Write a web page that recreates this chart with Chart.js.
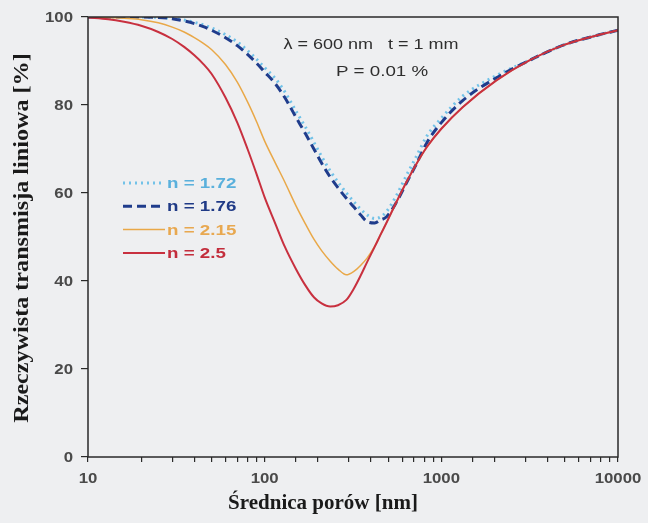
<!DOCTYPE html>
<html>
<head>
<meta charset="utf-8">
<script src="https://cdn.jsdelivr.net/npm/chart.js@4/dist/chart.umd.min.js"></script>
<style>
  body { margin: 0; background: #eeeff1; }
  #wrap { width: 648px; height: 523px; }
</style>
</head>
<body>
<div id="wrap"><canvas id="chart" width="648" height="523"></canvas></div>
<script>
// średnica porów [nm]
const poreSize = [10, 13, 16, 20, 25, 30, 35, 40, 45, 50, 60, 70, 80, 90, 100, 115, 130, 150, 170, 190, 210,
                  235, 260, 290, 320, 350, 380, 420, 450, 490, 550, 635, 720, 830, 1000, 1320, 2050, 3170, 4900, 7560, 10000];

// rzeczywista transmisja liniowa [%] dla kolejnych współczynników załamania
const rit172 = [100, 100, 100, 100, 99.9, 99.7, 99.3, 98.8, 98.2, 97.5, 96, 94.3, 92.4, 90.4, 88.5, 86, 83, 78.7, 75, 71.5, 68.3,
                65, 62.5, 60, 58, 56.3, 55, 54.2, 54.5, 55.8, 59, 64, 68.2, 73, 77, 82, 86.7, 90.2, 93.6, 95.8, 97];
const rit176 = [100, 100, 100, 100, 99.9, 99.6, 99.1, 98.5, 97.8, 97, 95.3, 93.5, 91.5, 89.5, 87.5, 84.8, 81.7, 77.3, 73.5, 70, 66.8,
                63.6, 61.2, 58.8, 56.8, 55, 53.5, 53.2, 53.8, 54.6, 57.5, 62.3, 66.5, 71.5, 76, 81, 86.2, 90.2, 93.6, 95.8, 97];
const rit215 = [100, 99.9, 99.7, 99.4, 98.7, 97.7, 96.6, 95.3, 94, 92.6, 89.2, 85.2, 80.7, 76.2, 71.8, 66.8, 62.5, 57.2, 53, 49.5, 46.9,
                44.5, 42.7, 41.4, 42.2, 43.6, 45.2, 47.9, 50.3, 53.3, 57.5, 62.5, 66.5, 70.5, 74.6, 79.5, 85.6, 90.2, 93.6, 95.8, 97];
const rit250 = [99.9, 99.5, 98.9, 98, 96.6, 95, 93.2, 91.3, 89.3, 87.1, 81.7, 76, 70, 64.3, 59, 53, 47.8, 42.8, 39, 36.3, 34.9,
                34.2, 34.5, 35.7, 38.3, 41.3, 44.3, 47.8, 50.3, 53.3, 57.5, 62.5, 66.5, 70.5, 74.6, 79.5, 85.6, 90.2, 93.6, 95.8, 97];

const seriesLabels = ['n = 1.72', 'n = 1.76', 'n = 2.15', 'n = 2.5'];
const xTickLabels = [10, 100, 1000, 10000];
const yTickLabels = [0, 20, 40, 60, 80, 100];

function toPoints(values) {
    return poreSize.map((x, i) => ({ x: x, y: values[i] }));
}

// tekst rozciągnięty w poziomie (czcionki w oryginale są szersze)
function wideText(c, text, x, y, sx) {
    c.save();
    c.translate(x, y);
    c.scale(sx, 1);
    c.fillText(text, 0, 0);
    c.restore();
}

// ramka, opisy osi, legenda i warunki obliczeń rysowane ręcznie
const extras = {
    id: 'extras',
    beforeDraw(chart) {
        const c = chart.ctx;
        c.save();
        c.fillStyle = '#eeeff1';
        c.fillRect(0, 0, chart.width, chart.height);
        c.restore();
    },
    afterDatasetsDraw(chart) {
        const c = chart.ctx;
        const a = chart.chartArea;
        const sx = chart.scales.x;
        const sy = chart.scales.y;
        c.save();
        c.strokeStyle = '#2a2a2a';
        c.lineWidth = 1.5;
        c.strokeRect(a.left, a.top, a.right - a.left, a.bottom - a.top);

        // etykiety osi
        c.fillStyle = '#4a4a4a';
        c.font = 'bold 14px "Liberation Sans", Arial, sans-serif';
        c.textBaseline = 'middle';
        c.textAlign = 'center';
        xTickLabels.forEach(v => wideText(c, String(v), sx.getPixelForValue(v), 479, 1.2));
        c.textAlign = 'right';
        yTickLabels.forEach(v => wideText(c, String(v), 73, sy.getPixelForValue(v) + 1, 1.2));

        // legenda
        chart.data.datasets.forEach((ds, i) => {
            const y = 183 + i * 23.3;
            c.strokeStyle = ds.borderColor;
            c.lineWidth = ds.borderWidth;
            c.setLineDash(ds.borderDash || []);
            c.beginPath();
            c.moveTo(123, y);
            c.lineTo(165, y);
            c.stroke();
            c.setLineDash([]);
            c.fillStyle = ds.textColor;
            c.font = 'bold 15px "Liberation Sans", Arial, sans-serif';
            c.textAlign = 'left';
            wideText(c, ds.label, 167, y + 1, 1.25);
        });

        // warunki obliczeń
        c.fillStyle = '#2e2e2e';
        c.font = '15px "Liberation Sans", Arial, sans-serif';
        c.textAlign = 'center';
        wideText(c, '\u03bb = 600 nm   t = 1 mm', 371, 45, 1.2);
        wideText(c, 'P = 0.01 %', 382, 72, 1.25);

        // tytuły osi
        c.fillStyle = '#1a1a1a';
        c.font = 'bold 21px "Liberation Serif", "Times New Roman", serif';
        c.fillText('\u015arednica por\u00f3w [nm]', 323, 504);
        c.translate(23, 238);
        c.rotate(-Math.PI / 2);
        c.scale(1.15, 1);
        c.fillText('Rzeczywista transmisja liniowa [%]', 0, 0);
        c.restore();
    }
};

const ctx = document.getElementById('chart').getContext('2d');
new Chart(ctx, {
    type: 'line',
    data: {
        datasets: [{
            label: seriesLabels[0],
            data: toPoints(rit172),
            borderColor: '#72c2e8',
            textColor: '#5ab0dc',
            borderWidth: 3,
            borderDash: [2, 4],
            order: 4
        }, {
            label: seriesLabels[1],
            data: toPoints(rit176),
            borderColor: '#1f3c8c',
            textColor: '#1f3a86',
            borderWidth: 3,
            borderDash: [9, 5],
            order: 3
        }, {
            label: seriesLabels[2],
            data: toPoints(rit215),
            borderColor: '#e9a848',
            textColor: '#e8a850',
            borderWidth: 1.5,
            order: 2
        }, {
            label: seriesLabels[3],
            data: toPoints(rit250),
            borderColor: '#c8303f',
            textColor: '#c32d3c',
            borderWidth: 2,
            order: 1
        }]
    },
    options: {
        responsive: false,
        animation: false,
        layout: { padding: { left: 0, top: 17, right: 30, bottom: 0 } },
        elements: {
            point: { radius: 0 },
            line: { cubicInterpolationMode: 'monotone', fill: false }
        },
        plugins: {
            legend: { display: false },
            tooltip: { enabled: false }
        },
        scales: {
            x: {
                type: 'logarithmic',
                min: 10,
                max: 10000,
                afterFit(scale) { scale.height = 66; },
                border: { display: false },
                grid: { drawOnChartArea: false, tickLength: 5, color: '#2a2a2a', lineWidth: 1.2 },
                ticks: { display: false, autoSkip: false }
            },
            y: {
                min: 0,
                max: 100,
                afterFit(scale) { scale.width = 88; },
                afterBuildTicks(scale) { scale.ticks = yTickLabels.map(v => ({ value: v })); },
                border: { display: false },
                grid: { drawOnChartArea: false, tickLength: 7, color: '#2a2a2a', lineWidth: 1.2 },
                ticks: { display: false }
            }
        }
    },
    plugins: [extras]
});
</script>
</body>
</html>
